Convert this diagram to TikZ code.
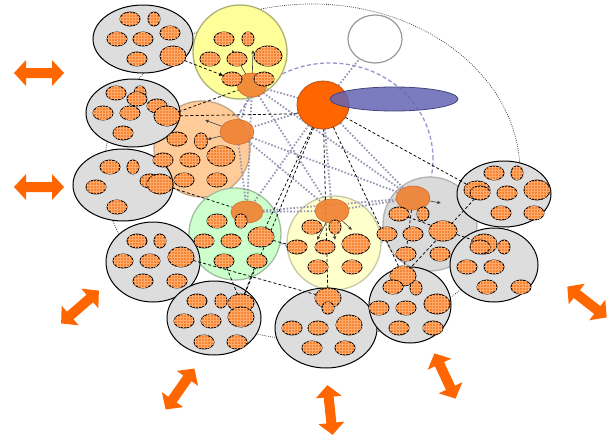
\documentclass[tikz,border=0pt]{standalone}
\usetikzlibrary{shapes.geometric,arrows.meta,patterns}
\definecolor{orfill}{RGB}{247,133,50}
\definecolor{orgrid}{RGB}{252,170,110}
\definecolor{headfill}{RGB}{240,128,48}
\definecolor{headedge}{RGB}{205,110,50}
\definecolor{coreor}{RGB}{255,102,0}
\definecolor{coreedge}{RGB}{190,80,20}
\definecolor{gfill}{RGB}{221,221,221}
\definecolor{yfill}{RGB}{255,255,153}
\definecolor{yedge}{RGB}{175,175,120}
\definecolor{pfill}{RGB}{255,204,153}
\definecolor{pedge}{RGB}{195,165,135}
\definecolor{grfill}{RGB}{204,255,204}
\definecolor{gredge}{RGB}{160,190,160}
\definecolor{pyfill}{RGB}{255,255,204}
\definecolor{pyedge}{RGB}{200,200,165}
\definecolor{grrfill}{RGB}{218,218,218}
\definecolor{grredge}{RGB}{178,178,178}
\definecolor{meshcol}{RGB}{150,150,178}
\definecolor{ringblue}{RGB}{150,150,205}
\definecolor{bluefill}{RGB}{100,100,180}
\definecolor{arrfill}{RGB}{255,102,0}
\pgfdeclarelayer{back}
\pgfdeclarelayer{wires}
\pgfsetlayers{back,wires,main}
% orange element and grey cluster nodes
\newcommand\ov[5]{\node[elem,minimum width=#4pt,minimum height=#5pt] (#1) at (#2,#3) {};}
\newcommand\gc[5]{\node[gcl,minimum width=#4pt,minimum height=#5pt] (#1) at (#2,#3) {};}
\begin{document}
\begin{tikzpicture}[x=1pt,y=-1pt,
  elem/.style={ellipse,draw=black,line width=0.9pt,fill=orfill,inner sep=0pt,outer sep=0pt,
     postaction={pattern=grid,pattern color=orgrid}},
  head/.style={ellipse,draw=headedge,line width=0.6pt,fill=headfill,fill opacity=0.9,inner sep=0pt,outer sep=0pt},
  gcl/.style={ellipse,draw=black,line width=1pt,fill=gfill,inner sep=0pt,outer sep=0pt},
  ccl/.style={circle,line width=1.3pt,inner sep=0pt,outer sep=0pt,minimum size=#1pt},
  mesh/.style={draw=meshcol,line width=1.8pt,dash pattern=on 1.6pt off 1.8pt},
  link/.style={draw=black,line width=0.75pt,dash pattern=on 3pt off 2.2pt},
  tiny/.style={draw=black!75,line width=0.6pt,-{Latex[length=3.5pt,width=3.5pt]}},
  dbl/.pic={\fill[arrfill] (-25,0)--(-13,-13)--(-13,-5)--(13,-5)--(13,-13)--(25,0)
      --(13,13)--(13,5)--(-13,5)--(-13,13)--cycle;}]
\useasboundingbox (0,0) rectangle (608,437);

\begin{pgfonlayer}{back}
  \fill[white] (0,0) rectangle (608,437);
  % outer dotted boundary and inner ring
  \draw[black!75,line width=0.7pt,dash pattern=on 0.9pt off 1.2pt]
    (312,172) ellipse [x radius=208pt,y radius=168pt];
  \draw[ringblue,line width=1.3pt,dash pattern=on 4pt off 2.5pt]
    (330,159) ellipse [x radius=103pt,y radius=96pt];
  % coloured clusters
  \node[ccl=94,draw=yedge,fill=yfill] (Yc) at (240,52) {};
  \node[ccl=96,draw=pedge,fill=pfill] (Pc) at (202,149) {};
  \node[ccl=92,draw=gredge,fill=grfill] (Gc) at (235,234) {};
  \node[ccl=94,draw=pyedge,fill=pyfill] (PYc) at (334,243) {};
  \node[ccl=94,draw=grredge,fill=grrfill] (GRc) at (430,224) {};
  % grey clusters
  \gc{G1}{143}{39}{100}{68}
  \gc{G2}{133}{113}{94}{68}
  \gc{G3}{123}{185}{100}{72}
  \gc{G4}{153}{262}{94}{80}
  \gc{G5}{214}{318}{94}{74}
  \gc{G6}{326}{328}{102}{80}
  \gc{G7}{410}{305}{82}{76}
  \gc{G8}{504}{194}{94}{66}
  \gc{G9}{494}{265}{88}{74}
\end{pgfonlayer}

% cluster heads
\node[head,minimum width=30pt,minimum height=24pt] (Yh) at (252,85) {};
\node[head,minimum width=34pt,minimum height=25pt] (Ph) at (237,132) {};
\node[head,minimum width=32pt,minimum height=22pt] (Grh) at (247,212) {};
\node[head,minimum width=34pt,minimum height=24pt] (PYh) at (332,211) {};
\node[head,minimum width=34pt,minimum height=24pt] (GRh) at (413,198) {};

% yellow cluster
\ov{y1}{224}{39}{20}{14} \ov{y2}{248}{39}{12}{14} \ov{y3}{210}{59}{20}{14}
\ov{y4}{237}{59}{20}{14} \ov{y5}{268}{56}{28}{20} \ov{y6}{232}{79}{20}{14}
\ov{y7}{264}{79}{20}{14}
% peach cluster
\ov{p1}{177}{139}{20}{14} \ov{p2}{201}{141}{13}{16} \ov{p3}{221}{156}{28}{20}
\ov{p4}{163}{160}{20}{14} \ov{p5}{190}{160}{20}{14} \ov{p6}{184}{180}{20}{14}
\ov{p7}{217}{180}{20}{14}
% green cluster
\ov{gr1}{217}{221}{20}{14} \ov{gr2}{241}{221}{12}{14} \ov{gr3}{204}{241}{20}{14}
\ov{gr4}{231}{241}{20}{14} \ov{gr5}{261}{237}{26}{20} \ov{gr6}{224}{261}{20}{14}
\ov{gr7}{257}{261}{20}{14}
% pale yellow cluster
\ov{py1}{312}{227}{20}{14} \ov{py2}{335}{227}{12}{14} \ov{py3}{297}{247}{20}{14}
\ov{py4}{325}{247}{20}{14} \ov{py5}{356}{244}{28}{20} \ov{py6}{318}{267}{20}{14}
\ov{py7}{352}{267}{20}{14}
% light grey cluster
\ov{ge1}{399}{214}{20}{14} \ov{ge2}{423}{214}{12}{14} \ov{ge3}{387}{234}{20}{14}
\ov{ge4}{413}{234}{20}{14} \ov{ge5}{443}{231}{28}{20} \ov{ge6}{406}{254}{20}{14}
\ov{ge7}{440}{254}{20}{14}

% grey cluster contents
\ov{g1a}{130}{19}{20}{14} \ov{g1b}{154}{19}{12}{14} \ov{g1c}{117}{39}{20}{14}
\ov{g1d}{143}{39}{20}{14} \ov{g1e}{170}{33}{20}{14} \ov{g1f}{137}{59}{20}{14}
\ov{g1g}{173}{56}{26}{20}

\ov{g2a}{116}{93}{20}{14} \ov{g2b}{140}{93}{12}{14} \ov{g2c}{137}{99}{20}{14}
\ov{g2d}{157}{106}{20}{14} \ov{g2e}{103}{113}{20}{14} \ov{g2f}{130}{113}{20}{14}
\ov{g2g}{167}{116}{26}{20} \ov{g2h}{123}{133}{20}{14}

\ov{g3a}{110}{167}{20}{14} \ov{g3b}{133}{167}{12}{14} \ov{g3c}{96}{187}{20}{14}
\ov{g3d}{150}{181}{20}{14} \ov{g3e}{160}{184}{26}{20} \ov{g3f}{117}{207}{20}{14}

\ov{g4a}{137}{241}{20}{14} \ov{g4b}{160}{241}{12}{14} \ov{g4c}{123}{261}{20}{14}
\ov{g4d}{150}{261}{20}{14} \ov{g4e}{181}{257}{26}{20} \ov{g4f}{143}{281}{20}{14}
\ov{g4g}{177}{281}{20}{14}

\ov{g5a}{197}{301}{20}{14} \ov{g5b}{221}{301}{12}{14} \ov{g5c}{241}{303}{26}{18}
\ov{g5d}{241}{317}{26}{20} \ov{g5e}{184}{321}{20}{14} \ov{g5f}{211}{321}{20}{14}
\ov{g5g}{204}{342}{20}{14} \ov{g5h}{237}{342}{20}{14}

\ov{g6a}{328}{298}{26}{20} \ov{g6b}{328}{308}{12}{12} \ov{g6c}{292}{328}{20}{14}
\ov{g6d}{318}{328}{20}{14} \ov{g6e}{349}{325}{26}{20} \ov{g6f}{312}{348}{20}{14}
\ov{g6g}{345}{348}{20}{14}

\ov{g7a}{403}{276}{26}{20} \ov{g7b}{393}{287}{20}{14} \ov{g7c}{416}{288}{12}{14}
\ov{g7d}{379}{308}{20}{14} \ov{g7e}{406}{308}{20}{14} \ov{g7f}{437}{304}{26}{20}
\ov{g7g}{399}{328}{20}{14} \ov{g7h}{433}{328}{20}{14}

\ov{g8a}{494}{173}{20}{14} \ov{g8b}{517}{173}{12}{14} \ov{g8c}{477}{190}{26}{18}
\ov{g8d}{480}{193}{20}{14} \ov{g8e}{507}{193}{20}{14} \ov{g8f}{537}{190}{26}{20}
\ov{g8g}{501}{213}{20}{14} \ov{g8h}{534}{213}{20}{14}

\ov{g9a}{484}{244}{26}{20} \ov{g9b}{480}{247}{20}{14} \ov{g9c}{504}{247}{12}{14}
\ov{g9d}{467}{267}{20}{14} \ov{g9e}{494}{267}{20}{14} \ov{g9f}{487}{287}{20}{14}
\ov{g9g}{521}{287}{20}{14}

% core, satellite and empty slot
\node[ellipse,draw=coreedge,line width=0.8pt,fill=coreor,minimum width=52pt,minimum height=48pt,inner sep=0pt,outer sep=0pt] (C) at (323,105) {};
\node[ellipse,draw=bluefill!70!black,line width=0.8pt,fill=bluefill,fill opacity=0.85,minimum width=128pt,minimum height=24pt,inner sep=0pt] (B) at (394,99) {};
\node[ellipse,draw=black!40,line width=1.2pt,minimum width=54pt,minimum height=48pt,inner sep=0pt,outer sep=0pt] (W) at (375,39) {};

% arrow targets inside clusters
\coordinate (ya) at (232,50);
\coordinate (yb) at (253,50);
\coordinate (pa) at (205,120);
\coordinate (pya) at (317,240);
\coordinate (pyb) at (335,240);
\coordinate (pyc) at (352,230);
\coordinate (gea) at (441,203);

\begin{pgfonlayer}{wires}
  % dotted mesh between the cluster heads
  \foreach \a/\b in {C/W,C/Yh,C/Ph,C/Grh,C/PYh,C/GRh,Yh/Ph,Yh/Grh,Yh/PYh,Yh/GRh,
      Ph/Grh,Ph/PYh,Ph/GRh,Grh/PYh,Grh/GRh,PYh/GRh}
    \draw[mesh] (\a) -- (\b);
  % dashed links
  \draw[link,-{Latex[length=4pt,width=4pt]}] (g1g) -- (y6);
  \draw[link] (g2g) -- (Yh);
  \draw[link] (g2g) -- (C.200);
  \draw[link] (C) -- (g8c);
  \draw[link] (C) -- (g7a);
  \draw[link] (C) -- (g6a);
  \draw[link] (C) -- (gr5);
  \draw[link] (C) -- (g5c);
  \draw[link] (g3e) -- (Grh);
  \draw[link] (g4e) -- (g6a);
  \draw[link] (GRh) -- (g7a);
  \draw[link] (g8d) -- (g7a);
  \draw[link] (ge1) -- (g9a);
  \draw[link] (gr6) -- (g5c);
  \draw[link] (gr7) -- (g5c);
  \draw[link] (gr5) -- (py3);
  % arrows from heads to their members
  \draw[tiny] (Yh) -- (ya);
  \draw[tiny] (Yh) -- (yb);
  \draw[tiny] (Ph) -- (pa);
  \draw[tiny] (Ph) -- (p2);
  \draw[tiny] (PYh) -- (pya);
  \draw[tiny] (PYh) -- (pyb);
  \draw[tiny] (PYh) -- (pyc);
  \draw[tiny] (GRh) -- (gea);
\end{pgfonlayer}

% two-headed block arrows round the rim
\pic (a1) at (39,73) {dbl};
\pic (a2) at (39,187) {dbl};
\pic[rotate=41] (a3) at (80,307) {dbl};
\pic[rotate=55] (a4) at (180,389) {dbl};
\pic[rotate=96] (a5) at (330,410) {dbl};
\pic[rotate=115] (a6) at (445,376) {dbl};
\pic[rotate=142] (a7) at (587,302) {dbl};
\end{tikzpicture}
\end{document}
